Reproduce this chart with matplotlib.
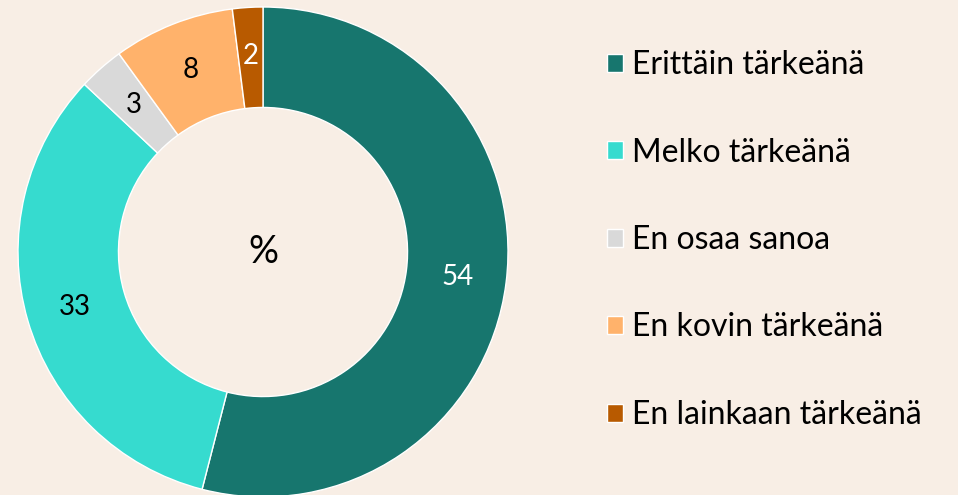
import matplotlib
matplotlib.use('Agg')
import matplotlib.pyplot as plt
import numpy as np

# --- DATA ---
labels = ['Erittäin tärkeänä', 'Melko tärkeänä', 'En osaa sanoa', 'En kovin tärkeänä', 'En lainkaan tärkeänä']
values = [54, 33, 3, 8, 2]
colors = ['#17766E', '#36DBCF', '#D9D9D9', '#FFB26B', '#B85A00']
label_colors = ['white', 'black', 'black', 'black', 'white']

BG = '#F8EEE5'
plt.rcParams['font.family'] = ['Lato', 'DejaVu Sans']

fig = plt.figure(figsize=(9.58, 4.95), dpi=100, facecolor=BG)
# donut centre around (263, 252) px, radius ~245 px
ax = fig.add_axes([(263 - 245) / 958, (495 - 252 - 245) / 495, 490 / 958, 490 / 495])
ax.set_facecolor(BG)

wedges, texts = ax.pie(values, colors=colors, startangle=90, counterclock=False,
                       radius=1, wedgeprops=dict(width=0.41, edgecolor='white', linewidth=1))

# value labels in the ring
total = sum(values)
ang = 90
for v, c in zip(values, label_colors):
    mid = ang - v / total * 360 / 2
    ang -= v / total * 360
    r = 0.80
    ax.text(r * np.cos(np.radians(mid)), r * np.sin(np.radians(mid)), str(v),
            ha='center', va='center', fontsize=20, color=c)

ax.text(0, 0, '%', ha='center', va='center', fontsize=27, color='black')
ax.set_xlim(-1, 1)
ax.set_ylim(-1, 1)
ax.set_aspect('equal')
ax.axis('off')

leg = fig.legend(wedges, labels, loc='upper left', bbox_to_anchor=(607 / 958, 1 - 50 / 495),
                 frameon=False, fontsize=23, handlelength=0.5, handleheight=0.5,
                 handletextpad=0.28, labelspacing=1.8, borderaxespad=0, borderpad=0)

fig.savefig('out.png', dpi=100, facecolor=BG)
